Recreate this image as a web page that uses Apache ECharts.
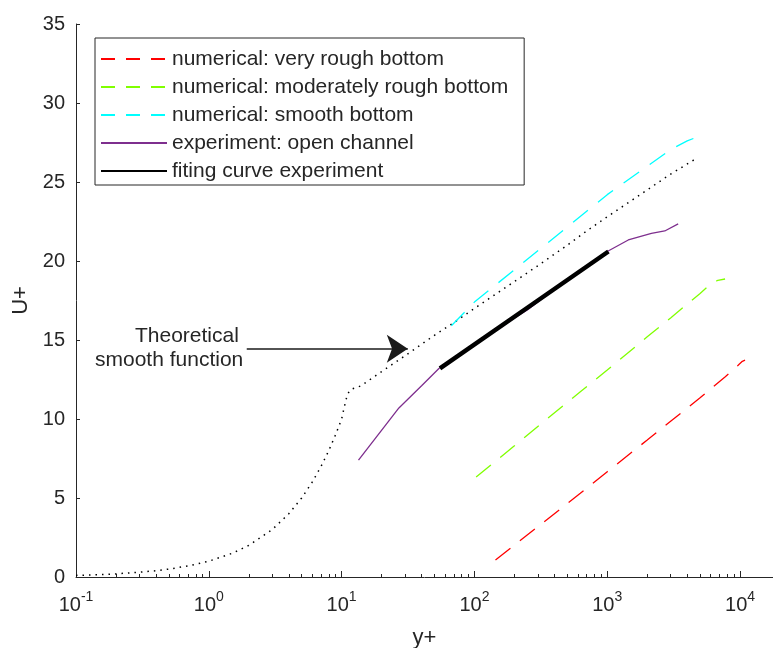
<!DOCTYPE html>
<html><head><meta charset="utf-8">
<script src="https://cdn.jsdelivr.net/npm/echarts@6/dist/echarts.min.js"></script>
<style>html,body{margin:0;padding:0;background:#fff}#c{width:773px;height:648px}</style>
</head><body><div id="c"></div>
<script>
// ---- data ----
const xMajorTicks = [0.1, 1, 10, 100, 1000, 10000];
const xMinorTicks = [0.2,0.3,0.4,0.5,0.6,0.7,0.8,0.9, 2,3,4,5,6,7,8,9, 20,30,40,50,60,70,80,90,
                     200,300,400,500,600,700,800,900, 2000,3000,4000,5000,6000,7000,8000,9000];
const yTickInterval = 5;

const redX = [144, 300, 627, 1000, 2000, 3000, 5000, 7700, 9160, 9800, 10400, 10900];
const redY = [1.08, 3.18, 5.3, 6.66, 8.67, 9.86, 11.34, 12.66, 13.2, 13.45, 13.65, 13.73];

const greenX = [103, 200, 300, 500, 627, 1000, 2000, 3000, 4060, 5000, 5940, 6800, 7710];
const greenY = [6.33, 8.3, 9.53, 11.05, 11.72, 13.1, 15.2, 16.4, 17.32, 17.95, 18.5, 18.78, 18.86];

const cyanX = [67, 100, 200, 500, 1000, 2000, 3000, 4000, 4600, 5010];
const cyanY = [15.9, 17.4, 19.45, 22.15, 24.2, 26.0, 27.05, 27.6, 27.8, 27.85];

const purpleX = [13.4, 27, 40, 54, 100, 200, 250, 400, 1000, 1440, 2150, 2710, 3420];
const purpleY = [7.4, 10.7, 12.1, 13.2, 14.7, 16.4, 16.9, 18.2, 20.6, 21.33, 21.75, 21.9, 22.35];

const fitX = [55, 300, 1020];
const fitY = [13.2, 17.5, 20.6];

const theoryX = [0.1,0.15,0.2,0.3,0.4,0.5,0.7,1,1.5,2,3,4,5,6,7,8,9,10,10.5,11,11.5,12,14,20,30,50,70,100,200,300,500,700,1000,2000,3000,4700];
const theoryY = [0.1,0.15,0.2,0.3,0.4,0.5,0.7,1,1.5,2,3,4,5,6,7,8,9,10,10.8,11.5,11.8,11.9,12.1,13.0,14.0,15.3,16.1,17.0,18.7,19.7,21.0,21.9,22.8,24.5,25.5,26.5];

const arrowStart = [1.93, 14.45];
const arrowEnd = [31.5, 14.45];

const legendNames = ['numerical: very rough bottom', 'numerical: moderately rough bottom',
  'numerical: smooth bottom', 'experiment: open channel', 'fiting curve experiment'];
const annotationLines = ['Theoretical', 'smooth function'];

// ---- chart ----
const FONT = '"Liberation Sans", Arial, Helvetica, sans-serif';
const TXT = '#262626';
const zip = (xs, ys) => xs.map((x, i) => [x, ys[i]]);
const chart = echarts.init(document.getElementById('c'), null, {renderer: 'canvas'});

const lineSeries = (name, xs, ys, color, width, type, z) => ({
  name, type: 'line', data: zip(xs, ys), showSymbol: false, symbol: 'none',
  lineStyle: {color, width, type}, itemStyle: {color}, z, silent: true,
  emphasis: {disabled: true}
});

const option = {
  animation: false,
  backgroundColor: '#fff',
  grid: {left: 76, right: 0, top: 24, bottom: 71, containLabel: false, outerBoundsMode: 'none'},
  xAxis: [{
    type: 'log', logBase: 10, min: 0.1, max: 17700,
    name: 'y+', nameLocation: 'middle', nameGap: 50,
    nameTextStyle: {fontFamily: FONT, fontSize: 22, color: TXT},
    axisLine: {show: true, onZero: false, lineStyle: {color: TXT, width: 1}},
    axisTick: {show: true, inside: true, length: 6, customValues: xMajorTicks, lineStyle: {color: TXT}},
    axisLabel: {
      show: true, customValues: xMajorTicks, margin: 13,
      formatter: v => '{b|10}{s|' + Math.round(Math.log10(v)) + '}',
      rich: {
        b: {fontFamily: FONT, fontSize: 20, lineHeight: 30, color: TXT},
        s: {fontFamily: FONT, fontSize: 14, lineHeight: 14, color: TXT, verticalAlign: 'top'}
      }
    },
    splitLine: {show: false}
  }, {
    type: 'log', logBase: 10, min: 0.1, max: 17700, gridIndex: 0, position: 'bottom', offset: 0,
    axisLine: {show: false},
    axisTick: {show: true, inside: true, length: 3, customValues: xMinorTicks, lineStyle: {color: TXT}},
    axisLabel: {show: false},
    splitLine: {show: false}
  }],
  yAxis: {
    type: 'value', min: 0, max: 35, interval: yTickInterval,
    name: 'U+', nameLocation: 'middle', nameGap: 41, nameRotate: 90,
    nameTextStyle: {fontFamily: FONT, fontSize: 22, color: TXT},
    axisLine: {show: true, lineStyle: {color: TXT, width: 1}},
    axisTick: {show: true, inside: true, length: 4, lineStyle: {color: TXT}},
    axisLabel: {margin: 11, fontFamily: FONT, fontSize: 20, color: TXT},
    splitLine: {show: false}
  },
  legend: {
    orient: 'vertical', left: 95, top: 38, padding: [10, 16, 3, 5],
    itemGap: 6, itemWidth: 66, itemHeight: 14,
    backgroundColor: '#fff', borderColor: TXT, borderWidth: 1, borderRadius: 0,
    selectedMode: false,
    itemStyle: {opacity: 0, borderWidth: 0},
    textStyle: {fontFamily: FONT, fontSize: 21, color: TXT, lineHeight: 22},
    data: [
      {name: legendNames[0], lineStyle: {type: [14, 11]}},
      {name: legendNames[1], lineStyle: {type: [14, 11]}},
      {name: legendNames[2], lineStyle: {type: [14, 11]}},
      {name: legendNames[3]},
      {name: legendNames[4]}
    ]
  },
  series: [
    Object.assign(lineSeries('Theoretical smooth function', theoryX, theoryY, '#000', 1.5, [1.5, 5], 2), {
      markLine: {
        silent: true, animation: false, symbol: ['none', 'arrow'], symbolSize: 21,
        lineStyle: {color: '#1a1a1a', width: 1.5, type: 'solid'},
        label: {show: false}, emphasis: {disabled: true},
        data: [[{coord: arrowStart}, {coord: arrowEnd}]]
      }
    }),
    lineSeries(legendNames[0], redX, redY, '#FF0000', 1.3, [19, 12], 3),
    lineSeries(legendNames[1], greenX, greenY, '#80FF00', 1.3, [19, 12], 3),
    lineSeries(legendNames[2], cyanX, cyanY, '#00FFFF', 1.3, [19, 13], 3),
    lineSeries(legendNames[3], purpleX, purpleY, '#7E2F8E', 1.3, 'solid', 4),
    lineSeries(legendNames[4], fitX, fitY, '#000000', 4.5, 'solid', 5)
  ],
  graphic: [
    {type: 'text', left: 135, top: 326, silent: true,
     style: {text: annotationLines[0], font: '21px ' + FONT, fill: TXT}},
    {type: 'text', left: 95, top: 350, silent: true,
     style: {text: annotationLines[1], font: '21px ' + FONT, fill: TXT}}
  ]
};
chart.setOption(option);
</script>
</body></html>
